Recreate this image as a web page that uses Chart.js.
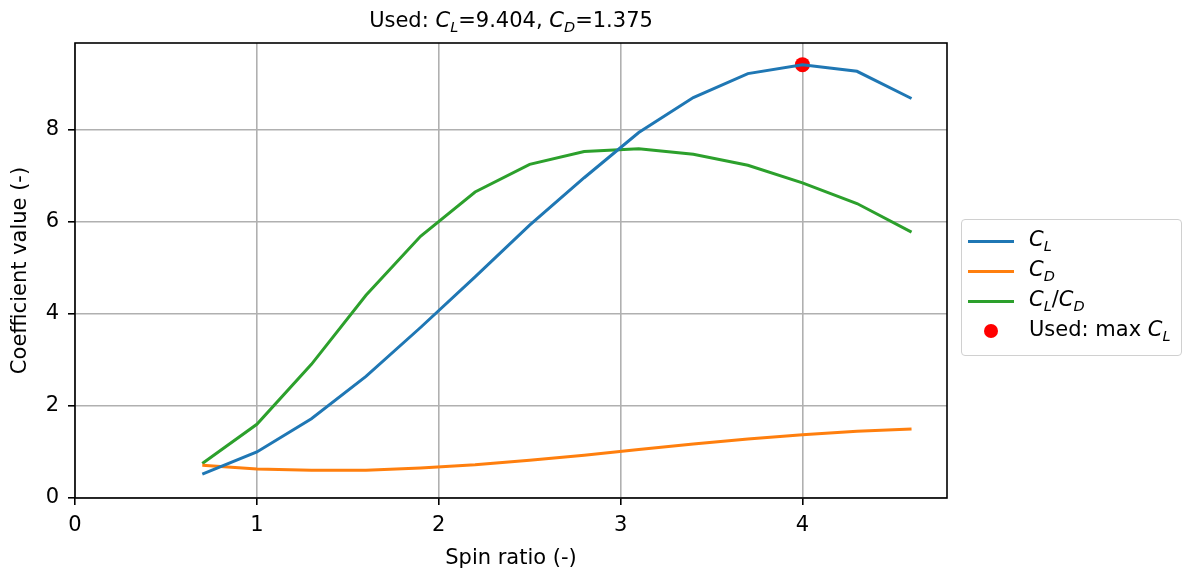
<!DOCTYPE html>
<html>
<head>
<meta charset="utf-8">
<script src="https://cdn.jsdelivr.net/npm/chart.js@4"></script>
<style>
  body { margin: 0; background: #fff; }
  #khung { position: relative; width: 1185px; height: 572px; font-family: "DejaVu Sans", sans-serif; color: #000; }
  #bieu-do { position: absolute; left: 0; top: 0; }
  .tieu-de { position: absolute; left: 75px; width: 872px; top: 8px; text-align: center; font-size: 21px; line-height: 24px; }
  .chu-so { font-style: italic; font-size: 14.5px; position: relative; top: 5px; }
  #chu-giai { position: absolute; left: 961px; top: 219px; width: 219px; height: 135px; border: 1.5px solid #d0d0d0; border-radius: 4px; font-size: 21px; }
  .dong { position: absolute; left: 0; height: 30px; }
  .mau { position: absolute; left: 6px; width: 46px; height: 3px; }
  .cham { position: absolute; left: 22px; width: 14px; height: 14px; border-radius: 50%; background: red; }
  .nhan { position: absolute; left: 67px; white-space: nowrap; line-height: 24px; }
</style>
</head>
<body>
<div id="khung">
  <canvas id="bieu-do" width="1185" height="572"></canvas>
  <div class="tieu-de">Used: <i>C</i><span class="chu-so">L</span>=9.404, <i>C</i><span class="chu-so">D</span>=1.375</div>
  <div id="chu-giai"></div>
</div>
<script>
// du lieu doc tu hinh
const tiSoQuay = [0.7, 1.0, 1.3, 1.6, 1.9, 2.2, 2.5, 2.8, 3.1, 3.4, 3.7, 4.0, 4.3, 4.6];
const heSoNang = [0.52, 1.00, 1.72, 2.64, 3.70, 4.80, 5.92, 6.95, 7.93, 8.69, 9.21, 9.404, 9.26, 8.67];
const heSoCan = [0.71, 0.63, 0.60, 0.60, 0.65, 0.72, 0.82, 0.93, 1.05, 1.17, 1.28, 1.375, 1.45, 1.50];
const tiLeNangCan = [0.75, 1.60, 2.90, 4.40, 5.68, 6.64, 7.24, 7.52, 7.58, 7.46, 7.22, 6.84, 6.39, 5.77];
const diemDung = { x: 4.0, y: 9.404 };
const nhanTrucX = [0, 1, 2, 3, 4];
const nhanTrucY = [0, 2, 4, 6, 8];

const mauNang = "#1f77b4";
const mauCan = "#ff7f0e";
const mauTiLe = "#2ca02c";

function thanhDiem(ys) {
    return tiSoQuay.map((x, i) => ({ x: x, y: ys[i] }));
}

// khung vien 4 canh
const vienKhung = {
    id: "vienKhung",
    afterDatasetsDraw(chart) {
        const { ctx, chartArea: a } = chart;
        ctx.save();
        ctx.strokeStyle = "#000";
        ctx.lineWidth = 1.6;
        ctx.strokeRect(a.left, a.top, a.right - a.left, a.bottom - a.top);
        ctx.restore();
    }
};

const phongChu = { family: "DejaVu Sans", size: 21 };

new Chart(document.getElementById("bieu-do").getContext("2d"), {
    type: "line",
    data: {
        datasets: [
            { label: "CL", data: thanhDiem(heSoNang), borderColor: mauNang, borderWidth: 3, pointRadius: 0, tension: 0 },
            { label: "CD", data: thanhDiem(heSoCan), borderColor: mauCan, borderWidth: 3, pointRadius: 0, tension: 0 },
            { label: "CL/CD", data: thanhDiem(tiLeNangCan), borderColor: mauTiLe, borderWidth: 3, pointRadius: 0, tension: 0 },
            { label: "Used", data: [diemDung], showLine: false, pointRadius: 7.5, pointBackgroundColor: "red", pointBorderWidth: 0, borderColor: "red" }
        ]
    },
    options: {
        responsive: false,
        animation: false,
        devicePixelRatio: 1,
        layout: { padding: { left: 0, right: 238, top: 43, bottom: 0 } },
        plugins: { legend: { display: false }, tooltip: { enabled: false } },
        scales: {
            x: {
                type: "linear",
                min: 0,
                max: 4.795,
                afterFit: s => { s.height = 74; },
                afterBuildTicks: s => { s.ticks = nhanTrucX.map(v => ({ value: v })); },
                ticks: { color: "#000", font: phongChu, padding: 8, maxRotation: 0 },
                grid: { color: "#b0b0b0", lineWidth: 1.6, tickColor: "#000", tickLength: 7, tickWidth: 1.6 },
                border: { display: false },
                title: { display: true, text: "Spin ratio (-)", color: "#000", font: phongChu, padding: { top: 0, bottom: 1 } }
            },
            y: {
                type: "linear",
                min: 0,
                max: 9.874,
                afterFit: s => { s.width = 75; },
                afterBuildTicks: s => { s.ticks = nhanTrucY.map(v => ({ value: v })); },
                ticks: { color: "#000", font: phongChu, padding: 9 },
                grid: { color: "#b0b0b0", lineWidth: 1.6, tickColor: "#000", tickLength: 7, tickWidth: 1.6 },
                border: { display: false },
                title: { display: true, text: "Coefficient value (-)", color: "#000", font: phongChu, padding: { top: 8, bottom: 0 } }
            }
        }
    },
    plugins: [vienKhung]
});

// chu giai html
const dongChuGiai = [
    { loai: "duong", mau: mauNang, nhan: "<i>C</i><span class='chu-so'>L</span>" },
    { loai: "duong", mau: mauCan, nhan: "<i>C</i><span class='chu-so'>D</span>" },
    { loai: "duong", mau: mauTiLe, nhan: "<i>C</i><span class='chu-so'>L</span>/<i>C</i><span class='chu-so'>D</span>" },
    { loai: "cham", mau: "red", nhan: "Used: max <i>C</i><span class='chu-so'>L</span>" }
];
const khungChuGiai = document.getElementById("chu-giai");
for (let i = 0; i < dongChuGiai.length; i++) {
    const d = dongChuGiai[i];
    const tam = 21 + i * 30;
    const item = document.createElement("div");
    item.className = "dong";
    item.style.top = (tam - 15) + "px";
    const kyHieu = d.loai === "duong"
        ? `<div class="mau" style="top:14px;background:${d.mau}"></div>`
        : `<div class="cham" style="top:8px"></div>`;
    item.innerHTML = kyHieu + `<div class="nhan" style="top:1px">${d.nhan}</div>`;
    khungChuGiai.appendChild(item);
}
</script>
</body>
</html>
